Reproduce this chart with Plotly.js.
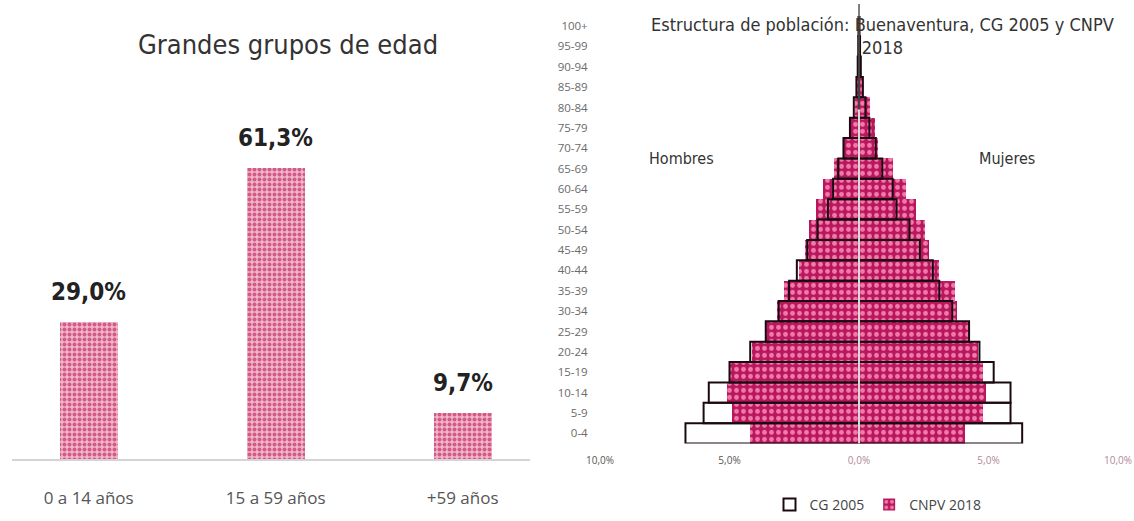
<!DOCTYPE html>
<html>
<head>
<meta charset="utf-8">
<script src="https://cdn.plot.ly/plotly-3.0.1.min.js"></script>
<style>
html,body{margin:0;padding:0;background:#fff;}
#chart{width:1134px;height:521px;}
</style>
</head>
<body>
<div id="chart"></div>
<script>
// ---- Left chart: Grandes grupos de edad ----
const groupLabels = ["0 a 14 años", "15 a 59 años", "+59 años"];
const groupValues = [29.0, 61.3, 9.7];

// ---- Right chart: population pyramid ----
const ageGroups = ["0-4","5-9","10-14","15-19","20-24","25-29","30-34","35-39","40-44","45-49",
  "50-54","55-59","60-64","65-69","70-74","75-79","80-84","85-89","90-94","95-99","100+"];
const cg2005Hombres = [6.7, 6.0, 5.8, 5.0, 4.2, 3.6, 3.1, 2.7, 2.4, 2.0,
  1.6, 1.2, 1.0, 0.8, 0.6, 0.35, 0.2, 0.1, 0.05, 0.03, 0.02];
const cg2005Mujeres = [6.3, 5.85, 5.85, 5.2, 4.65, 4.25, 3.6, 3.1, 2.85, 2.35,
  1.95, 1.45, 1.3, 0.9, 0.65, 0.4, 0.25, 0.15, 0.07, 0.04, 0.02];
const cnpv2018Hombres = [4.2, 4.9, 5.1, 5.0, 4.15, 3.6, 3.15, 2.9, 2.3, 2.1,
  1.95, 1.65, 1.4, 0.95, 0.6, 0.35, 0.15, 0.08, 0.03, 0.01, 0.005];
const cnpv2018Mujeres = [4.1, 4.8, 4.9, 4.8, 4.6, 4.3, 3.8, 3.7, 3.1, 2.7,
  2.55, 2.2, 1.8, 1.3, 0.75, 0.6, 0.42, 0.15, 0.06, 0.03, 0.01];
const pyramidTickVals = [-10, -5, 0, 5, 10];
const pyramidTickText = [
  '<span style="color:#555">10,0%</span>',
  '<span style="color:#555">5,0%</span>',
  '<span style="color:#b0899a">0,0%</span>',
  '<span style="color:#b0899a">5,0%</span>',
  '<span style="color:#b0899a">10,0%</span>'
];

const narrow = "DejaVu Sans Condensed, Liberation Sans Narrow, sans-serif";
const condBold = "DejaVu Sans Condensed, Liberation Sans Narrow, sans-serif";
const body = "Open Sans, Liberation Sans, sans-serif";

const neg = a => a.map(v => -v);

const pinkPattern = {shape: ".", bgcolor: "#b8175e", fgcolor: "#f27aaa", size: 7, solidity: 0.38, fillmode: "replace"};
const lightPattern = {shape: ".", bgcolor: "#f0b6ca", fgcolor: "#d45a86", size: 5, solidity: 0.5, fillmode: "replace"};

const traces = [
  {
    type: "bar", x: groupLabels, y: groupValues, xaxis: "x", yaxis: "y",
    width: 0.31, showlegend: false, hoverinfo: "skip",
    marker: {color: "#e8a0b8", pattern: lightPattern, line: {width: 0}}
  },
  {
    type: "bar", orientation: "h", name: "CNPV 2018", legendgroup: "cnpv", legendrank: 2,
    y: ageGroups, x: neg(cnpv2018Hombres), xaxis: "x2", yaxis: "y2", width: 1,
    marker: {color: "#b8175e", pattern: pinkPattern, line: {width: 0}}, hoverinfo: "skip"
  },
  {
    type: "bar", orientation: "h", name: "CNPV 2018", legendgroup: "cnpv", showlegend: false,
    y: ageGroups, x: cnpv2018Mujeres, xaxis: "x2", yaxis: "y2", width: 1,
    marker: {color: "#b8175e", pattern: pinkPattern, line: {width: 0}}, hoverinfo: "skip"
  },
  {
    type: "bar", orientation: "h", name: "CG 2005", legendgroup: "cg", legendrank: 1,
    y: ageGroups, x: neg(cg2005Hombres), xaxis: "x2", yaxis: "y2", width: 1,
    marker: {color: "rgba(255,255,255,0)", line: {color: "#1a0a10", width: 2}}, hoverinfo: "skip"
  },
  {
    type: "bar", orientation: "h", name: "CG 2005", legendgroup: "cg", showlegend: false,
    y: ageGroups, x: cg2005Mujeres, xaxis: "x2", yaxis: "y2", width: 1,
    marker: {color: "rgba(255,255,255,0)", line: {color: "#1a0a10", width: 2}}, hoverinfo: "skip"
  }
];

const annotations = groupLabels.map((g, i) => ({
  x: g, y: groupValues[i], xref: "x", yref: "y",
  text: groupValues[i].toFixed(1).replace(".", ",") + "%",
  showarrow: false, yanchor: "bottom", yshift: 14,
  font: {family: condBold, size: 24, color: "#222", weight: "bold"}
}));

annotations.push(
  {x: 288/1134, y: 1 - 45/521, xref: "paper", yref: "paper", showarrow: false,
   text: "Grandes grupos de edad", xanchor: "center", yanchor: "middle",
   font: {family: narrow, size: 27, color: "#333"}},
  {x: 882/1134, y: 1 - 36/521, xref: "paper", yref: "paper", showarrow: false,
   text: "Estructura de población: Buenaventura, CG 2005 y CNPV<br>2018", xanchor: "center", yanchor: "middle",
   font: {family: narrow, size: 18, color: "#333"}},
  {x: 681/1134, y: 1 - 148/521, xref: "paper", yref: "paper", showarrow: false,
   text: "Hombres", font: {family: narrow, size: 16, color: "#333"}},
  {x: 1037/1134, y: 1 - 148/521, xref: "paper", yref: "paper", showarrow: false,
   text: "Mujeres", font: {family: narrow, size: 16, color: "#333"}}
);

const layout = {
  width: 1134, height: 521,
  margin: {l: 0, r: 0, t: 0, b: 0},
  paper_bgcolor: "#fff", plot_bgcolor: "rgba(0,0,0,0)",
  barmode: "overlay", bargap: 0,
  separators: ",.",
  showlegend: true,
  legend: {orientation: "h", x: 878/1134, y: 12/521, xanchor: "center", yanchor: "middle",
    font: {family: body, size: 14, color: "#444"}, traceorder: "normal"},
  xaxis: {
    domain: [12/1134, 530/1134], anchor: "y", type: "category",
    range: [-0.41, 2.36], showgrid: false, zeroline: false,
    showline: true, linecolor: "#d4d4d4", linewidth: 2,
    ticks: "outside", ticklen: 22, tickcolor: "rgba(0,0,0,0)",
    tickfont: {family: body, size: 17, color: "#555"}, fixedrange: true
  },
  yaxis: {
    domain: [(521-463)/521, (521-128)/521], anchor: "x",
    range: [0, 70], showgrid: false, zeroline: false, showticklabels: false, showline: false
  },
  xaxis2: {
    domain: [600/1134, 1118/1134], anchor: "y2",
    range: [-10, 10], tickvals: pyramidTickVals, ticktext: pyramidTickText,
    showgrid: false, zeroline: false, showline: false, ticklabeloverflow: "allow",
    ticks: "outside", ticklen: 7, tickcolor: "rgba(0,0,0,0)",
    tickfont: {family: body, size: 10}
  },
  yaxis2: {
    domain: [(521-447)/521, (521-16)/521], anchor: "x2", type: "category",
    range: [-0.5, 20.5], showgrid: false, zeroline: false, showline: false,
    ticks: "outside", ticklen: 9, tickcolor: "rgba(0,0,0,0)",
    tickfont: {family: body, size: 11.5, color: "#6a6a6a"}
  },
  shapes: [
    {type: "line", xref: "x2", yref: "paper", x0: 0, x1: 0, y0: (521-447)/521, y1: (521-110)/521,
     line: {color: "#d9d9d9", width: 2}, layer: "above"},
    {type: "line", xref: "x2", yref: "paper", x0: 0, x1: 0, y0: (521-110)/521, y1: (521-4)/521,
     line: {color: "#555", width: 1.5}, layer: "above"}
  ],
  annotations: annotations
};

Plotly.newPlot("chart", traces, layout, {displayModeBar: false, staticPlot: true});
</script>
</body>
</html>
